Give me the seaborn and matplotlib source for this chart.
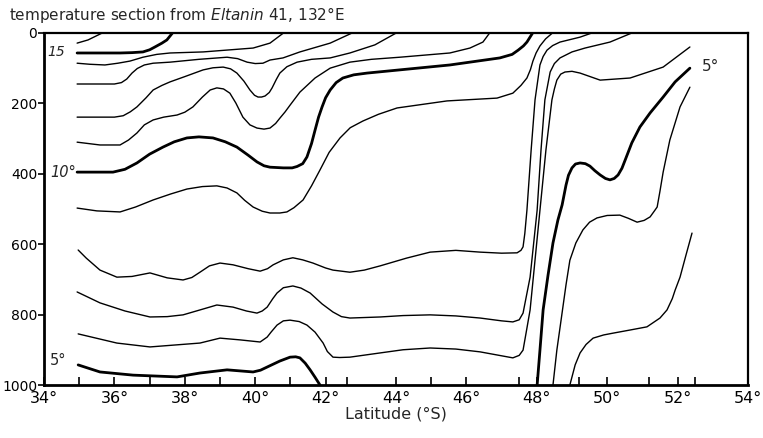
import matplotlib
matplotlib.use('Agg')
import matplotlib.pyplot as plt
import seaborn as sns

# isotherms traced from the section: latitude (deg S) and depth (m)
t16_lat = [34.94, 35.25, 35.68]
t16_dep = [30, 21, 0]

t15_lat = [34.94, 36.16, 36.5, 36.81, 37.0, 37.15, 37.35, 37.49, 37.66]
t15_dep = [58, 58, 57, 55, 49, 41, 30, 21, 0]

t14_lat = [34.94, 35.3, 35.73, 36.1, 36.44, 36.81, 37.2, 37.58, 38.52, 39.94, 40.42, 40.82]
t14_dep = [87, 90, 92, 87, 81, 70, 62, 58, 55, 44, 30, 0]

t13_lat = [34.94, 36.0, 36.2, 36.35, 36.5, 36.65, 36.85, 37.1, 37.58, 38.4, 39.20, 39.5,
           39.77, 40.0, 40.22, 40.42, 40.79, 41.27, 42.13, 42.78]
t13_dep = [146, 146, 142, 132, 115, 102, 92, 87, 84, 76, 70, 74,
           84, 88, 87, 78, 72, 55, 30, 0]

t12_lat = [34.94, 36.0, 36.25, 36.45, 36.64, 36.9, 37.10, 37.35, 37.58, 38.0, 38.52, 38.8,
           39.09, 39.3, 39.48, 39.68, 39.85, 39.98, 40.08, 40.18, 40.28, 40.4, 40.48, 40.6,
           40.70, 40.9, 41.19, 41.6, 42.13, 42.69, 43.40, 44.03]
t12_dep = [240, 240, 236, 225, 211, 185, 163, 150, 140, 125, 106, 100,
           98, 103, 115, 138, 163, 178, 183, 183, 180, 170, 157, 133,
           115, 97, 84, 76, 72, 58, 35, 0]

t11_lat = [34.94, 35.59, 36.16, 36.4, 36.64, 36.85, 37.10, 37.4, 37.78, 38.0, 38.23, 38.5,
           38.72, 38.91, 39.1, 39.28, 39.45, 39.65, 39.85, 40.05, 40.25, 40.42, 40.58, 40.70,
           40.85, 40.99, 41.27, 41.70, 42.13, 42.69, 43.3, 44.11, 45.53, 46.10, 46.47, 46.67]
t11_dep = [311, 319, 319, 305, 285, 262, 248, 240, 234, 226, 211, 183,
           163, 157, 160, 172, 200, 240, 262, 271, 274, 271, 258, 243,
           225, 206, 169, 129, 101, 84, 76, 70, 58, 44, 27, 0]

t10_lat = [34.94, 35.96, 36.3, 36.64, 37.0, 37.38, 37.7, 38.06, 38.4, 38.80, 39.15, 39.48,
           39.8, 40.05, 40.25, 40.42, 40.8, 41.05, 41.19, 41.35, 41.47, 41.6, 41.70, 41.8,
           41.90, 42.0, 42.13, 42.3, 42.49, 42.8, 43.18, 45.53, 46.95, 47.3, 47.47, 47.62,
           47.72, 47.89]
t10_dep = [396, 396, 388, 370, 345, 325, 310, 299, 296, 299, 310, 325,
           348, 367, 378, 382, 384, 384, 380, 372, 353, 315, 277, 240,
           211, 185, 163, 142, 129, 120, 115, 92, 72, 62, 50, 38,
           27, 0]

t9_lat = [34.94, 35.5, 36.16, 36.6, 37.10, 37.6, 38.06, 38.5, 38.91, 39.2, 39.48, 39.7,
          39.94, 40.2, 40.42, 40.7, 40.90, 41.1, 41.36, 41.6, 41.84, 42.1, 42.41, 42.7,
          43.06, 43.5, 44.03, 45.45, 46.87, 47.32, 47.55, 47.72, 47.82, 47.89, 47.98, 48.09,
          48.25, 48.46]
t9_dep = [498, 506, 509, 495, 475, 458, 444, 437, 435, 441, 455, 476,
          495, 507, 512, 512, 509, 497, 475, 435, 390, 340, 299, 270,
          251, 232, 214, 194, 186, 172, 150, 129, 105, 81, 58, 38,
          18, 0]

t8_lat = [34.97, 35.2, 35.59, 36.07, 36.5, 37.01, 37.5, 37.95, 38.2, 38.43, 38.7, 39.00,
          39.37, 39.8, 40.14, 40.35, 40.51, 40.8, 41.07, 41.35, 41.64, 42.0, 42.21, 42.69,
          43.1, 43.55, 44.3, 44.97, 45.7, 46.39, 47.0, 47.44, 47.55, 47.61, 47.66, 47.72,
          47.84, 47.95, 48.09, 48.18, 48.29, 48.45, 48.66, 49.23, 49.60]
t8_dep = [617, 640, 674, 694, 692, 682, 696, 702, 695, 680, 662, 654,
          659, 670, 677, 670, 659, 645, 639, 645, 654, 668, 674, 680,
          674, 662, 640, 623, 618, 623, 626, 625, 618, 608, 570, 504,
          333, 191, 92, 68, 50, 37, 27, 13, 0]

t7_lat = [34.94, 35.59, 36.3, 37.01, 37.5, 37.95, 38.5, 38.91, 39.37, 39.75, 40.05, 40.2,
          40.34, 40.5, 40.62, 40.8, 41.07, 41.3, 41.56, 41.9, 42.21, 42.45, 42.69, 43.55,
          44.2, 44.97, 45.7, 46.39, 47.0, 47.32, 47.5, 47.61, 47.7, 47.81, 48.01, 48.12,
          48.23, 48.38, 48.5, 48.66, 49.0, 49.37, 50.08, 50.73]
t7_dep = [736, 767, 790, 807, 806, 801, 785, 773, 779, 790, 796, 790,
          779, 755, 739, 724, 719, 725, 739, 770, 793, 806, 810, 807,
          803, 801, 804, 810, 818, 821, 815, 796, 750, 694, 504, 333,
          191, 112, 88, 72, 55, 44, 27, 0]

t6_lat = [34.97, 36.07, 37.01, 38.43, 39.00, 39.57, 40.14, 40.34, 40.45, 40.62, 40.8, 40.99,
          41.25, 41.47, 41.7, 41.93, 42.05, 42.21, 42.4, 42.69, 43.55, 44.2, 44.97, 45.7,
          46.39, 47.32, 47.5, 47.61, 47.7, 47.81, 48.09, 48.26, 48.43, 48.5, 48.57, 48.68,
          48.80, 49.0, 49.23, 49.80, 50.65, 51.59, 52.35]
t6_dep = [855, 881, 892, 881, 867, 872, 878, 864, 850, 830, 818, 816,
          820, 830, 850, 881, 905, 921, 922, 921, 909, 900, 895, 898,
          906, 923, 916, 901, 850, 787, 504, 333, 191, 160, 135, 118,
          112, 110, 115, 135, 129, 98, 41]

t5a_lat = [34.97, 35.59, 36.53, 37.78, 38.43, 39.20, 39.94, 40.15, 40.34, 40.7, 40.99, 41.15,
           41.27, 41.42, 41.56, 41.7, 41.84]
t5a_dep = [943, 963, 972, 977, 966, 957, 963, 958, 949, 932, 921, 920,
           923, 938, 957, 978, 1000]

t5b_lat = [48.01, 48.09, 48.18, 48.32, 48.46, 48.60, 48.72, 48.83, 48.9, 49.0, 49.1, 49.23,
           49.38, 49.51, 49.65, 49.80, 49.95, 50.08, 50.2, 50.31, 50.42, 50.51, 50.70, 50.93,
           51.22, 51.59, 51.93, 52.35]
t5b_dep = [1000, 901, 787, 688, 597, 532, 489, 433, 405, 384, 373, 370,
           372, 379, 392, 404, 414, 418, 414, 404, 385, 362, 313, 268,
           228, 183, 140, 101]

t4_lat = [48.46, 48.57, 48.69, 48.83, 48.94, 49.11, 49.31, 49.5, 49.71, 50.0, 50.36, 50.6,
          50.85, 51.05, 51.22, 51.35, 51.42, 51.5, 51.59, 51.78, 52.07, 52.35]
t4_dep = [1000, 901, 816, 716, 646, 597, 560, 538, 526, 519, 518, 527,
          538, 533, 523, 505, 495, 450, 396, 305, 211, 155]

t3_lat = [48.94, 49.09, 49.23, 49.4, 49.60, 49.9, 50.16, 50.65, 51.13, 51.50, 51.70, 51.85,
          51.93, 52.07, 52.24, 52.41]
t3_dep = [1000, 943, 909, 885, 867, 858, 853, 844, 835, 810, 787, 755,
          731, 694, 631, 569]

# station marks along the bottom
stations = [35, 36, 37, 38, 39, 40, 41, 42, 42.6, 44, 45, 46, 47.5, 48, 49.2, 50, 51.2, 52, 52.5]
lat_ticks = [34, 36, 38, 40, 42, 44, 46, 48, 50, 52, 54]
depth_ticks = [0, 200, 400, 600, 800, 1000]

sns.set_theme(style='ticks')
plt.rcParams['font.family'] = ['DejaVu Sans']
plt.rcParams['mathtext.fontset'] = 'dejavusans'

fig = plt.figure(figsize=(7.63, 4.38), dpi=100)
ax = fig.add_axes([0.0577, 0.121, 0.9226, 0.8047])

isotherms = [
    (t16_lat, t16_dep, 1.0), (t15_lat, t15_dep, 2.0), (t14_lat, t14_dep, 1.0),
    (t13_lat, t13_dep, 1.0), (t12_lat, t12_dep, 1.0), (t11_lat, t11_dep, 1.0),
    (t10_lat, t10_dep, 2.0), (t9_lat, t9_dep, 1.0), (t8_lat, t8_dep, 1.0),
    (t7_lat, t7_dep, 1.0), (t6_lat, t6_dep, 1.0), (t5a_lat, t5a_dep, 2.0),
    (t5b_lat, t5b_dep, 2.0), (t4_lat, t4_dep, 1.0), (t3_lat, t3_dep, 1.0),
]
for lat, dep, lw in isotherms:
    sns.lineplot(x=lat, y=dep, sort=False, estimator=None, color='black',
                 linewidth=lw, ax=ax, solid_joinstyle='round', solid_capstyle='round')

ax.set_xlim(34, 54)
ax.set_ylim(1000, 0)
ax.set_xticks(lat_ticks)
ax.set_xticklabels([f'{t}°' for t in lat_ticks], fontsize=11.5)
ax.set_xticks([s for s in stations if s not in lat_ticks], minor=True)
ax.set_yticks(depth_ticks)
ax.set_yticklabels([str(d) for d in depth_ticks], fontsize=10)
ax.tick_params(axis='x', which='both', direction='in', length=6, width=1.2, pad=4, colors='black')
ax.tick_params(axis='y', direction='out', length=4, width=1.2, pad=1, colors='black')
ax.set_xlabel('Latitude (°S)', fontsize=11.5, labelpad=1)
ax.set_ylabel('')

for side in ['left', 'bottom']:
    ax.spines[side].set_linewidth(2.0)
for side in ['top', 'right']:
    ax.spines[side].set_linewidth(1.6)
for sp in ax.spines.values():
    sp.set_color('black')

# contour labels
ax.text(34.35, 55, '15', fontsize=10, style='italic', ha='center', va='center')
ax.text(34.55, 396, '10°', fontsize=10.5, style='italic', ha='center', va='center')
ax.text(34.4, 930, '5°', fontsize=10.5, ha='center', va='center')
ax.text(52.95, 95, '5°', fontsize=11, ha='center', va='center')

fig.text(0.012, 0.965, r'temperature section from $\it{Eltanin\ 41}$, 132°E',
         fontsize=11, ha='left', va='center')

fig.savefig('out.png', dpi=100, facecolor='white')
